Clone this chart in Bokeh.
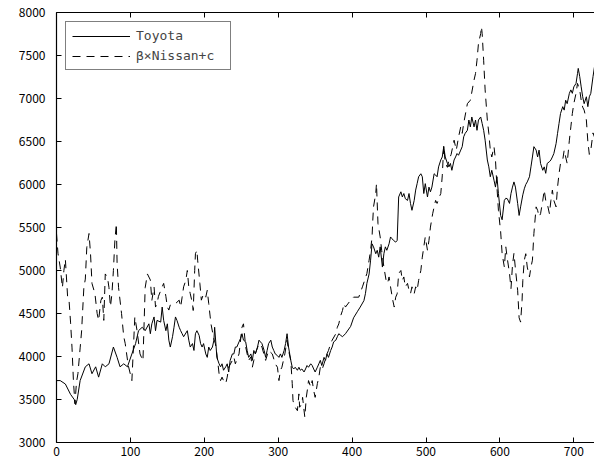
from bokeh.plotting import figure
from bokeh.models import Range1d, LinearAxis, FixedTicker, Legend, LegendItem
from bokeh.embed import file_html
from bokeh.resources import INLINE

# ---- data ----
toyota_x = [0, 5, 12, 19, 24, 26, 28, 32, 39, 44,
            48, 53, 57, 62, 66, 71, 77, 82, 86, 91,
            96, 102, 107, 111, 116, 120, 125, 127, 129, 132,
            134, 136, 141, 143, 145, 148, 150, 152, 154, 157,
            159, 161, 163, 166, 168, 170, 172, 177, 179, 181,
            184, 186, 188, 190, 193, 195, 197, 199, 202, 204,
            206, 208, 211, 213, 214, 216, 217, 220, 222, 224,
            226, 229, 231, 233, 235, 238, 240, 242, 244, 247,
            249, 251, 253, 256, 258, 260, 263, 265, 267, 269,
            272, 274, 276, 278, 281, 283, 285, 287, 290, 292,
            294, 296, 299, 301, 303, 305, 308, 310, 312, 314,
            317, 319, 321, 323, 326, 328, 330, 332, 335, 337,
            339, 341, 344, 346, 348, 350, 353, 355, 357, 359,
            362, 364, 366, 368, 371, 373, 375, 378, 380, 382,
            384, 387, 391, 398, 402, 407, 411, 416, 418, 420,
            423, 425, 427, 429, 432, 434, 436, 438, 441, 443,
            445, 447, 450, 452, 454, 456, 459, 461, 463, 466,
            468, 470, 472, 475, 477, 479, 481, 484, 486, 488,
            490, 493, 495, 497, 499, 502, 504, 506, 508, 511,
            513, 515, 517, 520, 522, 524, 526, 529, 531, 533,
            535, 538, 540, 542, 544, 547, 549, 551, 553, 556,
            558, 560, 562, 565, 567, 569, 571, 574, 576, 578,
            580, 583, 585, 587, 589, 592, 594, 596, 598, 601,
            603, 606, 608, 610, 613, 615, 617, 619, 621, 624,
            626, 628, 631, 633, 635, 637, 640, 642, 644, 646,
            649, 651, 653, 655, 658, 660, 662, 664, 667, 669,
            671, 673, 676, 678, 680, 682, 685, 687, 689, 691,
            694, 696, 698, 700, 703, 705, 706, 708, 710, 712,
            714, 717, 719, 721, 723, 726, 728]

toyota = [3720, 3720, 3680, 3560, 3500, 3440, 3500, 3720, 3880, 3915,
          3800, 3880, 3760, 3915, 3880, 3915, 4110, 3990, 3880, 3915,
          3880, 4030, 4150, 4300, 4340, 4300, 4380, 4265, 4380, 4460,
          4300, 4420, 4400, 4575, 4420, 4300, 4380, 4190, 4110, 4230,
          4340, 4460, 4420, 4340, 4300, 4265, 4230, 4300, 4190, 4110,
          4150, 4070, 4265, 4300, 4245, 4150, 4110, 4150, 4030, 3990,
          4110, 4070, 4110, 4190, 4340, 4110, 3990, 3915, 3880, 3915,
          3840, 3880, 3915, 3820, 3955, 4030, 4030, 4110, 4110, 4170,
          4210, 4265, 4190, 4170, 4070, 3990, 4030, 3955, 4070, 4030,
          4110, 4190, 4170, 4150, 4070, 3990, 4070, 4150, 4190, 4110,
          4070, 4030, 4010, 3990, 4030, 3990, 4070, 4150, 4265, 4110,
          3955, 3875, 3855, 3875, 3840, 3875, 3840, 3855, 3820, 3855,
          3895, 3875, 3915, 3895, 3855, 3820, 3875, 3915, 3955, 3895,
          3990, 3955, 4030, 3990, 4070, 4110, 4170, 4190, 4230, 4265,
          4250, 4230, 4265, 4350, 4450, 4520, 4575, 4650, 4730, 4850,
          4960, 5120, 5310, 5275, 5195, 5235, 5155, 5275, 5040, 5195,
          5275, 5235, 5310, 5390, 5370, 5350, 5330, 5350, 5855, 5915,
          5855, 5895, 5835, 5815, 5895, 5780, 5700, 5815, 5935, 6010,
          6090, 6125, 6090, 5895, 6010, 5855, 5970, 5915, 5970, 6125,
          6110, 6090, 6205, 6285, 6320, 6440, 6320, 6245, 6205, 6245,
          6165, 6285, 6320, 6360, 6340, 6400, 6440, 6555, 6595, 6630,
          6750, 6670, 6785, 6670, 6750, 6630, 6750, 6785, 6710, 6630,
          6515, 6285, 6205, 6090, 6165, 6050, 5970, 6090, 5895, 5640,
          5590, 5815, 5840, 5835, 5780, 5895, 5970, 6030, 5970, 5780,
          5640, 5740, 5880, 5950, 6000, 6030, 6090, 6205, 6320, 6440,
          6400, 6320, 6400, 6245, 6165, 6205, 6130, 6245, 6265, 6285,
          6320, 6360, 6475, 6595, 6710, 6825, 6905, 6865, 6980, 6940,
          7060, 7100, 7060, 7135, 7175, 7290, 7350, 7255, 7135, 7020,
          6940, 7020, 6905, 7020, 7060, 7255, 7370]

nissan_x = [0, 2, 5, 8, 10, 12, 15, 17, 19, 21,
            23, 25, 27, 29, 32, 34, 37, 39, 41, 44,
            46, 48, 52, 55, 57, 60, 62, 64, 66, 69,
            71, 73, 75, 77, 79, 81, 82, 84, 88, 91,
            93, 97, 102, 106, 109, 113, 117, 120, 123, 127,
            129, 132, 134, 136, 138, 143, 145, 148, 150, 152,
            154, 161, 166, 168, 170, 172, 175, 177, 179, 181,
            184, 185, 187, 188, 190, 191, 194, 196, 199, 202,
            204, 206, 208, 209, 213, 215, 217, 220, 222, 224,
            226, 229, 231, 233, 238, 240, 242, 247, 251, 253,
            256, 258, 260, 263, 265, 267, 269, 274, 278, 283,
            287, 292, 296, 299, 301, 303, 305, 309, 312, 314,
            317, 319, 320, 321, 323, 326, 328, 329, 332, 333,
            336, 338, 340, 341, 344, 346, 348, 350, 353, 355,
            357, 359, 362, 366, 368, 371, 373, 378, 380, 382,
            384, 387, 389, 391, 398, 402, 409, 414, 420, 423,
            425, 427, 428, 429, 432, 433, 435, 438, 440, 443,
            446, 448, 450, 452, 455, 457, 459, 461, 463, 466,
            468, 470, 472, 475, 477, 479, 481, 484, 486, 488,
            490, 493, 495, 497, 499, 502, 504, 506, 509, 511,
            513, 515, 518, 520, 522, 524, 526, 529, 531, 534,
            538, 541, 544, 547, 549, 551, 556, 560, 565, 567,
            569, 571, 574, 575, 576, 578, 580, 583, 585, 587,
            589, 592, 594, 596, 598, 601, 603, 606, 608, 610,
            613, 615, 617, 619, 621, 624, 626, 628, 630, 631,
            633, 635, 637, 640, 642, 644, 646, 649, 651, 653,
            655, 658, 660, 662, 664, 667, 669, 671, 673, 676,
            678, 680, 682, 685, 687, 689, 691, 694, 696, 698,
            700, 703, 705, 708, 710, 712, 714, 717, 719, 721,
            723, 726, 728]

nissan = [5430, 5200, 5040, 4800, 5000, 5130, 4700, 4650, 4400, 4100,
          3700, 3450, 3700, 3800, 4100, 4300, 4800, 4900, 5270, 5430,
          5200, 4850, 4730, 4500, 4420, 4650, 4690, 4420, 4960, 4920,
          4800, 4580, 4730, 5000, 5350, 5545, 5080, 4800, 4500, 4230,
          4150, 3900, 3720, 4460, 4300, 4030, 3950, 4800, 4960, 4890,
          4650, 4810, 4575, 4615, 4700, 4810, 4850, 4700, 4575, 4540,
          4600, 4615, 4655, 4575, 4690, 4810, 4885, 5000, 4810, 4730,
          4615, 4535, 5000, 5195, 5235, 5120, 4850, 4655, 4730, 4690,
          4770, 4615, 4460, 4380, 4200, 4150, 4030, 3800, 3720, 3760,
          3720, 3685, 3760, 3875, 3955, 3995, 3915, 4030, 4340, 4380,
          4110, 4030, 3955, 3995, 3875, 3955, 4030, 4150, 4110, 3955,
          4070, 4030, 3915, 3875, 3720, 3840, 3875, 4030, 4190, 4070,
          3955, 3685, 3490, 3450, 3410, 3370, 3565, 3410, 3450, 3525,
          3295, 3525, 3645, 3720, 3645, 3720, 3605, 3525, 3685, 3760,
          3875, 3840, 3915, 4030, 4070, 4150, 4190, 4265, 4340, 4380,
          4460, 4535, 4615, 4575, 4655, 4690, 4690, 4810, 4965, 5120,
          5235, 5390, 5585, 5740, 5895, 6010, 5545, 5390, 5235, 5040,
          4885, 4850, 4925, 4810, 4655, 4575, 4690, 4730, 4965, 5000,
          4885, 4925, 4810, 4850, 4770, 4730, 4810, 4730, 4810, 4770,
          4885, 5000, 5155, 5275, 5390, 5235, 5350, 5505, 5660, 5740,
          5815, 5780, 5855, 5895, 6100, 6450, 6250, 6200, 6285, 6350,
          6515, 6400, 6550, 6670, 6595, 6710, 6940, 6980, 7215, 7290,
          7445, 7640, 7755, 7835, 7755, 7445, 7100, 6750, 6595, 6400,
          6320, 6440, 6285, 5970, 5700, 5450, 5196, 5040, 5275, 5140,
          4965, 4790, 5060, 5200, 5020, 4770, 4450, 4400, 4650, 4885,
          5120, 5195, 5040, 4925, 5040, 5120, 5430, 5740, 5700, 5625,
          5660, 5815, 5935, 5815, 5780, 5660, 5815, 5935, 5815, 5740,
          5970, 6125, 6245, 6285, 6400, 6320, 6245, 6515, 6670, 6825,
          6940, 7060, 7175, 7100, 6980, 6900, 6865, 6750, 6500, 6350,
          6400, 6600, 6550]

labels = ["Toyota", "β×Nissan+c"]
x_ticks = [0, 100, 200, 300, 400, 500, 600, 700]
y_ticks = [3000, 3500, 4000, 4500, 5000, 5500, 6000, 6500, 7000, 7500, 8000]

n1 = min(len(toyota_x), len(toyota))
n2 = min(len(nissan_x), len(nissan))

FONT = "Noto Sans CJK JP"
LEGEND_FONT = "DejaVu Sans Mono"

p = figure(width=594, height=465, output_backend="svg", toolbar_location=None,
           x_range=Range1d(0, 728), y_range=Range1d(3000, 8000),
           min_border_left=56, min_border_right=0, min_border_top=12,
           min_border_bottom=23, x_axis_location=None, y_axis_location=None)
p.outline_line_color = None
p.grid.visible = False
p.background_fill_color = "white"
p.border_fill_color = "white"

def style_axis(ax):
    ax.axis_line_color = "black"
    ax.axis_line_width = 1.2
    ax.major_tick_in = 5
    ax.major_tick_out = 0
    ax.minor_tick_line_color = None
    ax.major_tick_line_color = "black"
    ax.major_label_text_font = FONT
    ax.major_label_text_font_size = "12px"
    ax.major_label_text_color = "black"

left = LinearAxis(ticker=FixedTicker(ticks=y_ticks))
style_axis(left)
left.major_label_standoff = 11
p.add_layout(left, "left")

bottom = LinearAxis(ticker=FixedTicker(ticks=x_ticks))
style_axis(bottom)
bottom.major_label_standoff = 4
p.add_layout(bottom, "below")

top = LinearAxis(ticker=FixedTicker(ticks=x_ticks))
style_axis(top)
top.major_label_overrides = {t: "" for t in x_ticks}
top.major_label_standoff = 0
p.add_layout(top, "above")

r1 = p.line(toyota_x[:n1], toyota[:n1], line_color="black", line_width=1)
r2 = p.line(nissan_x[:n2], nissan[:n2], line_color="black", line_width=1,
            line_dash="8 6")

legend = Legend(items=[LegendItem(label=labels[0], renderers=[r1]),
                       LegendItem(label=labels[1], renderers=[r2])])
legend.location = "top_left"
legend.margin = 9
legend.padding = 6
legend.spacing = 5
legend.glyph_width = 58
legend.glyph_height = 14
legend.label_height = 14
legend.label_width = 88
legend.label_standoff = 6
legend.label_text_font = LEGEND_FONT
legend.label_text_font_size = "13px"
legend.border_line_color = "black"
legend.border_line_width = 1
legend.background_fill_alpha = 1
p.add_layout(legend, "center")

open("out.html", "w").write(file_html(p, INLINE))
